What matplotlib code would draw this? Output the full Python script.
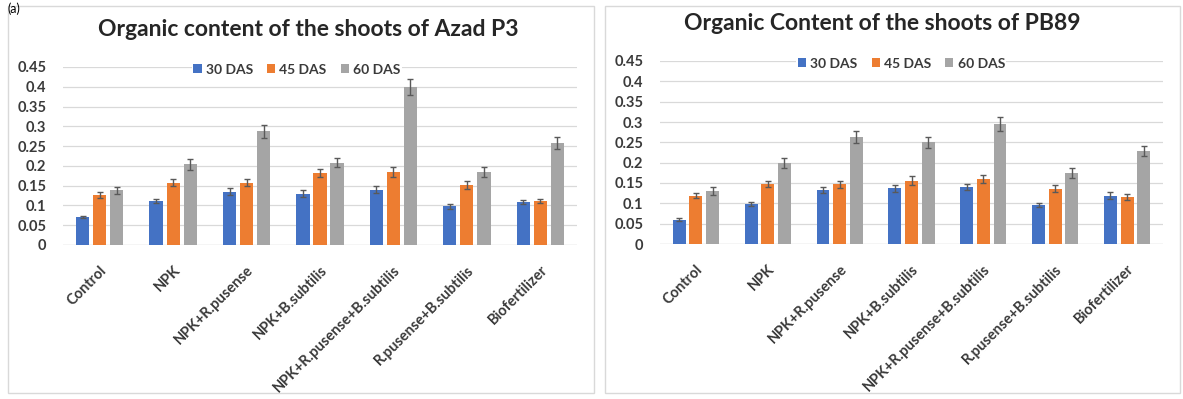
import matplotlib
matplotlib.use("Agg")
import matplotlib.pyplot as plt
import matplotlib.transforms as mtransforms
import numpy as np
from matplotlib.patches import Rectangle

plt.rcParams['font.family'] = ['Lato', 'DejaVu Sans']

categories = ["Control", "NPK", "NPK+R.pusense", "NPK+B.subtilis",
              "NPK+R.pusense+B.subtilis", "R.pusense+B.subtilis", "Biofertilizer"]
series_names = ["30 DAS", "45 DAS", "60 DAS"]
yticks = [0, 0.05, 0.1, 0.15, 0.2, 0.25, 0.3, 0.35, 0.4, 0.45]
ytick_labels = ["0", "0.05", "0.1", "0.15", "0.2", "0.25", "0.3", "0.35", "0.4", "0.45"]

# Azad P3
azad_30 = [0.071, 0.111, 0.135, 0.130, 0.140, 0.098, 0.109]
azad_45 = [0.126, 0.158, 0.158, 0.183, 0.184, 0.151, 0.111]
azad_60 = [0.138, 0.204, 0.287, 0.208, 0.400, 0.184, 0.258]
azad_30_err = [0.003, 0.005, 0.008, 0.008, 0.008, 0.006, 0.006]
azad_45_err = [0.007, 0.010, 0.009, 0.010, 0.012, 0.010, 0.006]
azad_60_err = [0.009, 0.014, 0.016, 0.011, 0.020, 0.012, 0.015]

# PB89
pb_30 = [0.060, 0.099, 0.133, 0.137, 0.140, 0.097, 0.119]
pb_45 = [0.119, 0.148, 0.147, 0.156, 0.160, 0.136, 0.115]
pb_60 = [0.130, 0.199, 0.263, 0.250, 0.296, 0.175, 0.229]
pb_30_err = [0.003, 0.005, 0.008, 0.008, 0.008, 0.005, 0.008]
pb_45_err = [0.007, 0.008, 0.009, 0.010, 0.009, 0.009, 0.007]
pb_60_err = [0.009, 0.012, 0.014, 0.013, 0.017, 0.012, 0.013]

colors = ["#4472C4", "#ED7D31", "#A5A5A5"]
text_col = "#3a3a3a"

W, H = 1183, 399
fig = plt.figure(figsize=(W / 100, H / 100), dpi=100)

# panel frames
for x0, x1 in [(8, 594), (605, 1180)]:
    fig.patches.append(Rectangle((x0 / W, 6 / H), (x1 - x0) / W, 387 / H,
                                 transform=fig.transFigure, fill=False,
                                 edgecolor="#d9d9d9", linewidth=1.0))

fig.text(0.006, 1 - 2 / H, "(a)", fontsize=9, color="black", va="top", ha="left")


def draw_panel(ax, title, vals, errs, legend_x, title_x):
    x = np.arange(len(categories))
    width = 0.18
    step = 0.232
    handles = []
    for i, (v, e) in enumerate(zip(vals, errs)):
        b = ax.bar(x + (i - 1) * step, v, width, color=colors[i], zorder=3,
                   label=series_names[i])
        ax.errorbar(x + (i - 1) * step, v, yerr=e, fmt="none", ecolor="#595959",
                    elinewidth=1.0, capsize=2.5, capthick=1.0, zorder=4)
        handles.append(b)
    ax.set_ylim(0, 0.45)
    ax.set_xlim(-0.5, len(categories) - 0.5)
    ax.set_yticks(yticks)
    ax.set_yticklabels(ytick_labels, fontsize=10.5, fontweight="bold", color=text_col)
    ax.set_xticks(x)
    ax.set_xticklabels(categories, rotation=45, ha="right", rotation_mode="anchor",
                       fontsize=10.5, fontweight="bold", color=text_col)
    shift = mtransforms.ScaledTranslation(8 / 72, 0, fig.dpi_scale_trans)
    for lbl in ax.get_xticklabels():
        lbl.set_transform(lbl.get_transform() + shift)
    ax.tick_params(axis="y", length=0, pad=12)
    ax.tick_params(axis="x", length=0, pad=13)
    ax.grid(axis="y", color="#d9d9d9", linewidth=0.9, zorder=0)
    ax.axhline(0, color="#d9d9d9", linewidth=0.9, zorder=2)
    for s in ax.spines.values():
        s.set_visible(False)
    leg = ax.legend(handles=handles, loc="center", bbox_to_anchor=(legend_x, 0.985), ncol=3,
                    frameon=True, handlelength=0.6, handleheight=0.6,
                    handletextpad=0.3, columnspacing=1.0, borderaxespad=0, borderpad=0.1,
                    prop={"weight": "bold", "size": 10})
    leg.get_frame().set_facecolor("white")
    leg.get_frame().set_edgecolor("none")
    leg.get_frame().set_alpha(1.0)
    for t in leg.get_texts():
        t.set_color(text_col)
    ax.set_title(title, fontsize=16.5, fontweight="bold", color="#262626", pad=22,
                 x=title_x)


ax1 = fig.add_axes([63 / W, 1 - 245 / H, (577 - 63) / W, (245 - 67) / H])
draw_panel(ax1, "Organic content of the shoots of Azad P3",
           [azad_30, azad_45, azad_60], [azad_30_err, azad_45_err, azad_60_err],
           0.455, (308 - 63) / (577 - 63))

ax2 = fig.add_axes([660 / W, 1 - 244 / H, (1163 - 660) / W, (244 - 61) / H])
draw_panel(ax2, "Organic Content of the shoots of PB89",
           [pb_30, pb_45, pb_60], [pb_30_err, pb_45_err, pb_60_err],
           0.48, (882 - 660) / (1163 - 660))

fig.savefig("out.png", dpi=100)
